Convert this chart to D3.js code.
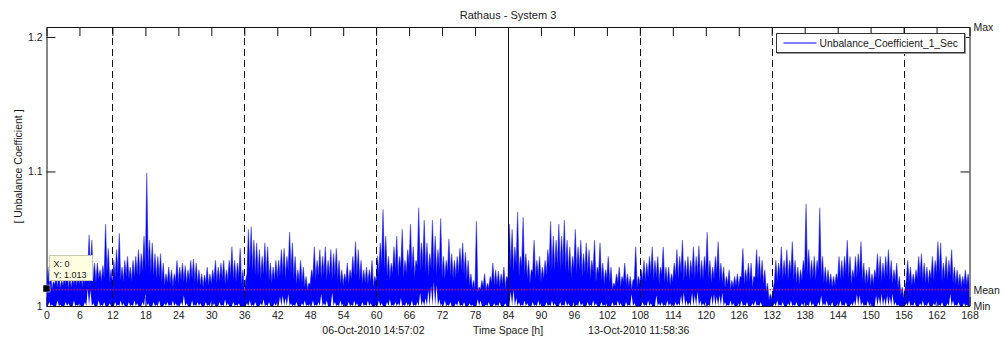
<!DOCTYPE html>
<html>
<head>
<meta charset="utf-8">
<script src="https://cdn.jsdelivr.net/npm/d3@7"></script>
<style>
  html, body { margin: 0; padding: 0; background: #fff; }
  svg { display: block; font-family: "Liberation Sans", Arial, Helvetica, sans-serif; }
</style>
</head>
<body>
<svg id="chart" width="1003" height="340"></svg>
<script>
// ---- data --------------------------------------------------------------
// Unbalance coefficient over one week of 1-second samples, summarised every
// half hour: the local valley of the trace, the highest spike that follows it,
// and the lowest value reached (bottom of the band).

// valleys: t = 0, 0.5, 1.0 ... 168 h
const troughs = [
  1.013, 1.015, 1.012, 1.016, 1.014, 1.013, 1.015, 1.016, 1.013, 1.014, 1.016, 1.015,
  1.016, 1.014, 1.017, 1.022, 1.024, 1.019, 1.017, 1.020, 1.018, 1.021, 1.024, 1.018,
  1.016, 1.021, 1.024, 1.019, 1.018, 1.022, 1.020, 1.018, 1.021, 1.023, 1.022, 1.025,
  1.026, 1.028, 1.024, 1.022, 1.020, 1.021, 1.018, 1.015, 1.017, 1.016, 1.014, 1.018,
  1.017, 1.019, 1.018, 1.016, 1.019, 1.020, 1.018, 1.016, 1.015, 1.014, 1.017, 1.015,
  1.016, 1.019, 1.017, 1.018, 1.020, 1.016, 1.018, 1.022, 1.019, 1.018, 1.021, 1.016,
  1.010, 1.024, 1.027, 1.025, 1.023, 1.022, 1.020, 1.023, 1.022, 1.019, 1.017, 1.019,
  1.020, 1.022, 1.023, 1.020, 1.026, 1.024, 1.020, 1.016, 1.018, 1.017, 1.014, 1.012,
  1.016, 1.021, 1.019, 1.022, 1.020, 1.023, 1.019, 1.022, 1.020, 1.022, 1.019, 1.016,
  1.015, 1.018, 1.016, 1.020, 1.023, 1.022, 1.019, 1.016, 1.017, 1.016, 1.018, 1.014,
  1.018, 1.024, 1.030, 1.027, 1.022, 1.020, 1.024, 1.027, 1.022, 1.028, 1.021, 1.024,
  1.030, 1.026, 1.021, 1.030, 1.026, 1.029, 1.025, 1.022, 1.028, 1.026, 1.023, 1.027,
  1.021, 1.020, 1.025, 1.022, 1.020, 1.021, 1.024, 1.026, 1.023, 1.019, 1.015, 1.013,
  1.012, 1.010, 1.012, 1.014, 1.011, 1.013, 1.017, 1.015, 1.015, 1.014, 1.016, 1.013,
  1.020, 1.028, 1.025, 1.030, 1.022, 1.029, 1.023, 1.020, 1.017, 1.025, 1.020, 1.022,
  1.018, 1.020, 1.023, 1.029, 1.027, 1.026, 1.029, 1.027, 1.030, 1.026, 1.024, 1.021,
  1.027, 1.024, 1.026, 1.022, 1.025, 1.023, 1.020, 1.025, 1.018, 1.024, 1.019, 1.016,
  1.020, 1.017, 1.012, 1.015, 1.017, 1.014, 1.018, 1.015, 1.014, 1.012, 1.020, 1.014,
  1.016, 1.019, 1.018, 1.021, 1.023, 1.019, 1.021, 1.017, 1.023, 1.017, 1.017, 1.015,
  1.018, 1.022, 1.020, 1.024, 1.019, 1.021, 1.019, 1.023, 1.020, 1.023, 1.019, 1.020,
  1.025, 1.020, 1.017, 1.020, 1.024, 1.018, 1.017, 1.014, 1.016, 1.012, 1.014, 1.015,
  1.014, 1.021, 1.016, 1.018, 1.018, 1.014, 1.021, 1.020, 1.019, 1.016, 1.010, 1.004,
  1.005, 1.018, 1.018, 1.022, 1.019, 1.021, 1.019, 1.024, 1.019, 1.017, 1.016, 1.019,
  1.026, 1.023, 1.019, 1.021, 1.019, 1.026, 1.021, 1.017, 1.016, 1.015, 1.014, 1.015,
  1.019, 1.019, 1.020, 1.024, 1.020, 1.016, 1.020, 1.021, 1.024, 1.018, 1.016, 1.017,
  1.015, 1.016, 1.021, 1.020, 1.018, 1.020, 1.022, 1.019, 1.016, 1.018, 1.013, 1.008,
  1.006, 1.019, 1.017, 1.015, 1.016, 1.020, 1.021, 1.018, 1.017, 1.016, 1.020, 1.019,
  1.024, 1.024, 1.018, 1.020, 1.019, 1.022, 1.017, 1.016, 1.015, 1.014, 1.016, 1.015,
  1.014
];
// spikes: t = 0.25, 0.75 ... 167.75 h
const peaks = [
  1.029, 1.024, 1.018, 1.021, 1.023, 1.019, 1.022, 1.026, 1.021, 1.020, 1.024, 1.022,
  1.026, 1.023, 1.028, 1.053, 1.049, 1.032, 1.032, 1.027, 1.030, 1.061, 1.043, 1.027,
  1.034, 1.042, 1.054, 1.029, 1.034, 1.037, 1.029, 1.034, 1.037, 1.042, 1.039, 1.052,
  1.099, 1.049, 1.047, 1.039, 1.037, 1.039, 1.032, 1.024, 1.029, 1.027, 1.024, 1.034,
  1.029, 1.032, 1.030, 1.027, 1.034, 1.035, 1.032, 1.027, 1.024, 1.023, 1.029, 1.024,
  1.027, 1.034, 1.029, 1.032, 1.034, 1.027, 1.034, 1.044, 1.034, 1.032, 1.043, 1.027,
  1.019, 1.057, 1.059, 1.049, 1.047, 1.042, 1.037, 1.047, 1.044, 1.032, 1.029, 1.034,
  1.034, 1.042, 1.043, 1.037, 1.055, 1.047, 1.037, 1.027, 1.034, 1.029, 1.022, 1.017,
  1.027, 1.044, 1.034, 1.042, 1.037, 1.044, 1.034, 1.042, 1.039, 1.043, 1.034, 1.027,
  1.024, 1.032, 1.027, 1.037, 1.048, 1.042, 1.034, 1.027, 1.029, 1.027, 1.034, 1.022,
  1.037, 1.047, 1.072, 1.052, 1.037, 1.032, 1.044, 1.052, 1.037, 1.057, 1.034, 1.042,
  1.061, 1.044, 1.034, 1.073, 1.047, 1.064, 1.047, 1.039, 1.064, 1.052, 1.042, 1.065,
  1.037, 1.034, 1.050, 1.039, 1.034, 1.037, 1.043, 1.047, 1.040, 1.034, 1.024, 1.019,
  1.063, 1.014, 1.019, 1.024, 1.017, 1.022, 1.032, 1.027, 1.026, 1.024, 1.029, 1.022,
  1.061, 1.057, 1.044, 1.070, 1.037, 1.066, 1.039, 1.034, 1.027, 1.049, 1.034, 1.037,
  1.029, 1.034, 1.042, 1.063, 1.052, 1.049, 1.061, 1.052, 1.064, 1.049, 1.044, 1.037,
  1.057, 1.044, 1.049, 1.039, 1.047, 1.042, 1.034, 1.049, 1.029, 1.047, 1.032, 1.027,
  1.037, 1.029, 1.017, 1.024, 1.029, 1.022, 1.032, 1.024, 1.022, 1.019, 1.044, 1.022,
  1.027, 1.034, 1.032, 1.037, 1.044, 1.034, 1.037, 1.029, 1.044, 1.029, 1.029, 1.024,
  1.032, 1.042, 1.037, 1.049, 1.034, 1.037, 1.034, 1.044, 1.037, 1.045, 1.034, 1.037,
  1.055, 1.034, 1.029, 1.037, 1.048, 1.032, 1.029, 1.022, 1.027, 1.019, 1.022, 1.024,
  1.022, 1.043, 1.027, 1.032, 1.032, 1.022, 1.042, 1.037, 1.034, 1.027, 1.017, 1.009,
  1.012, 1.034, 1.032, 1.044, 1.034, 1.042, 1.034, 1.048, 1.034, 1.029, 1.027, 1.034,
  1.076, 1.042, 1.034, 1.037, 1.034, 1.073, 1.037, 1.029, 1.027, 1.024, 1.022, 1.024,
  1.037, 1.034, 1.037, 1.049, 1.037, 1.027, 1.037, 1.039, 1.048, 1.032, 1.027, 1.029,
  1.024, 1.027, 1.039, 1.037, 1.032, 1.037, 1.042, 1.034, 1.027, 1.032, 1.022, 1.014,
  1.012, 1.034, 1.029, 1.024, 1.027, 1.037, 1.039, 1.032, 1.029, 1.027, 1.037, 1.034,
  1.048, 1.047, 1.032, 1.037, 1.034, 1.042, 1.029, 1.027, 1.024, 1.022, 1.027, 1.024
];
// lowest value in each half hour: t = 0, 0.5 ... 168 h
const floors = [
  1.000, 1.003, 1.001, 1.000, 1.004, 1.001, 1.000, 1.003, 1.002, 1.000, 1.004, 1.001,
  1.002, 1.000, 1.003, 1.013, 1.012, 1.002, 1.000, 1.004, 1.001, 1.003, 1.000, 1.002,
  1.000, 1.003, 1.001, 1.004, 1.002, 1.000, 1.003, 1.001, 1.004, 1.002, 1.000, 1.003,
  1.009, 1.002, 1.000, 1.003, 1.001, 1.004, 1.000, 1.002, 1.003, 1.001, 1.004, 1.002,
  1.001, 1.003, 1.008, 1.002, 1.000, 1.004, 1.001, 1.003, 1.002, 1.000, 1.003, 1.001,
  1.004, 1.002, 1.000, 1.003, 1.001, 1.005, 1.002, 1.000, 1.003, 1.001, 1.002, 1.000,
  1.000, 1.002, 1.004, 1.001, 1.003, 1.000, 1.002, 1.005, 1.001, 1.003, 1.000, 1.002,
  1.003, 1.007, 1.008, 1.006, 1.009, 1.002, 1.001, 1.003, 1.000, 1.002, 1.004, 1.001,
  1.002, 1.004, 1.001, 1.003, 1.009, 1.002, 1.004, 1.000, 1.010, 1.003, 1.001, 1.004,
  1.002, 1.000, 1.003, 1.001, 1.004, 1.002, 1.000, 1.003, 1.001, 1.004, 1.002, 1.000,
  1.001, 1.004, 1.002, 1.000, 1.003, 1.005, 1.001, 1.003, 1.002, 1.006, 1.001, 1.003,
  1.002, 1.004, 1.001, 1.003, 1.010, 1.004, 1.006, 1.012, 1.015, 1.018, 1.016, 1.005,
  1.002, 1.004, 1.001, 1.003, 1.000, 1.002, 1.004, 1.001, 1.003, 1.000, 1.002, 1.001,
  1.000, 1.005, 1.004, 1.000, 1.001, 1.003, 1.000, 1.002, 1.001, 1.003, 1.000, 1.002,
  1.000, 1.011, 1.012, 1.006, 1.003, 1.001, 1.004, 1.002, 1.000, 1.003, 1.001, 1.004,
  1.002, 1.000, 1.003, 1.001, 1.004, 1.002, 1.000, 1.003, 1.001, 1.004, 1.002, 1.000,
  1.003, 1.001, 1.004, 1.002, 1.000, 1.003, 1.001, 1.004, 1.002, 1.000, 1.003, 1.001,
  1.002, 1.000, 1.003, 1.001, 1.004, 1.002, 1.000, 1.003, 1.001, 1.009, 1.002, 1.000,
  1.000, 1.003, 1.001, 1.004, 1.002, 1.000, 1.008, 1.002, 1.003, 1.001, 1.004, 1.002,
  1.001, 1.003, 1.002, 1.008, 1.010, 1.004, 1.003, 1.010, 1.008, 1.011, 1.004, 1.002,
  1.003, 1.001, 1.008, 1.009, 1.007, 1.008, 1.010, 1.003, 1.001, 1.004, 1.002, 1.000,
  1.002, 1.004, 1.001, 1.003, 1.000, 1.002, 1.004, 1.001, 1.003, 1.000, 1.000, 1.000,
  1.000, 1.002, 1.004, 1.001, 1.003, 1.000, 1.002, 1.004, 1.001, 1.003, 1.000, 1.002,
  1.003, 1.001, 1.004, 1.002, 1.000, 1.003, 1.008, 1.002, 1.004, 1.001, 1.003, 1.000,
  1.002, 1.004, 1.001, 1.003, 1.000, 1.002, 1.004, 1.009, 1.008, 1.003, 1.001, 1.004,
  1.002, 1.000, 1.008, 1.007, 1.009, 1.006, 1.008, 1.007, 1.009, 1.003, 1.001, 1.000,
  1.000, 1.002, 1.004, 1.001, 1.003, 1.000, 1.002, 1.004, 1.001, 1.003, 1.000, 1.002,
  1.004, 1.001, 1.003, 1.000, 1.002, 1.009, 1.004, 1.001, 1.003, 1.000, 1.002, 1.001,
  1.000
];

const hourTicks   = [0, 6, 12, 18, 24, 30, 36, 42, 48, 54, 60, 66, 72, 78, 84, 90, 96,
                     102, 108, 114, 120, 126, 132, 138, 144, 150, 156, 162, 168];
const valueTicks  = [1, 1.1, 1.2];
const dayMarks    = [12, 36, 60, 108, 132, 156];   // dashed separators
const weekMark    = [84];                           // solid separator
const meanValue   = 1.012;
const minValue    = 1.0;
const maxValue    = 1.2074;
const seriesName  = "Unbalance_Coefficient_1_Sec";
const startStamp  = "06-Oct-2010 14:57:02";
const endStamp    = "13-Oct-2010 11:58:36";

// ---- build series -----------------------------------------------------
// each point: [hour, top of trace, bottom of trace]
const series = [];
peaks.forEach((p, i) => {
  series.push([i * 0.5, troughs[i], floors[i]]);
  series.push([i * 0.5 + 0.25, p, minValue]);
});
series.push([168, troughs[troughs.length - 1], floors[floors.length - 1]]);

// ---- layout ------------------------------------------------------------
const svg = d3.select("#chart");
const L = 46.5, R = 969.5, T = 27, B = 306;
const x = d3.scaleLinear().domain([0, 168]).range([L, R]);
const y = d3.scaleLinear().domain([minValue, maxValue]).range([B, T]);
const FS = 10.5;
const textCol = "#1a1a1a";

svg.append("rect").attr("width", 1003).attr("height", 340).attr("fill", "#fff");

svg.append("defs").append("clipPath").attr("id", "plot")
  .append("rect").attr("x", L).attr("y", T).attr("width", R - L).attr("height", B - T);

function styleAxis(g) {
  g.attr("font-family", null).attr("font-size", null);
  g.selectAll("path.domain").attr("stroke", "#111").attr("stroke-width", 1);
  g.selectAll(".tick line").attr("stroke", "#111").attr("stroke-width", 1);
  g.selectAll(".tick text").attr("fill", textCol).style("font-size", FS + "px");
}

// axes (ticks point inward)
svg.append("g").attr("transform", `translate(0,${B})`)
  .call(d3.axisBottom(x).tickValues(hourTicks).tickSizeInner(-9).tickSizeOuter(0).tickPadding(6))
  .call(styleAxis);
svg.append("g").attr("transform", `translate(0,${T})`)
  .call(d3.axisTop(x).tickValues(hourTicks).tickSizeInner(-9).tickSizeOuter(0).tickFormat(""))
  .call(styleAxis);
svg.append("g").attr("transform", `translate(${L},0)`)
  .call(d3.axisLeft(y).tickValues(valueTicks).tickSizeInner(-9).tickSizeOuter(0).tickPadding(4)
        .tickFormat(d3.format("")))
  .call(styleAxis);
svg.append("g").attr("transform", `translate(${R},0)`)
  .call(d3.axisRight(y).tickValues(valueTicks).tickSizeInner(-9).tickSizeOuter(0).tickFormat(""))
  .call(styleAxis);

// series: dense band between bottom and top of the trace
const band = d3.area().x(d => x(d[0])).y0(d => y(d[2])).y1(d => y(d[1]));
const topLine = d3.line().x(d => x(d[0])).y(d => y(d[1]));
const plot = svg.append("g").attr("clip-path", "url(#plot)");
plot.append("path").datum(series).attr("d", topLine)
  .attr("fill", "none").attr("stroke", "#7a7ad8").attr("stroke-width", 1.1)
  .attr("stroke-linejoin", "bevel");
plot.append("path").datum(series).attr("d", band)
  .attr("fill", "#0000ff").attr("stroke", "none");

// mean line
svg.append("line")
  .attr("x1", x(0)).attr("x2", x(168))
  .attr("y1", y(meanValue)).attr("y2", y(meanValue))
  .attr("stroke", "#ff0020").attr("stroke-width", 1)
  .attr("stroke-dasharray", "1.5,1.5");

// day separators
svg.selectAll("line.day").data(dayMarks).join("line")
  .attr("class", "day")
  .attr("x1", d => Math.round(x(d)) + 0.5).attr("x2", d => Math.round(x(d)) + 0.5)
  .attr("y1", T).attr("y2", B)
  .attr("stroke", "#111").attr("stroke-width", 1)
  .attr("stroke-dasharray", "7,4");
svg.selectAll("line.week").data(weekMark).join("line")
  .attr("class", "week")
  .attr("x1", d => Math.round(x(d)) + 0.5).attr("x2", d => Math.round(x(d)) + 0.5)
  .attr("y1", T).attr("y2", B)
  .attr("stroke", "#111").attr("stroke-width", 1);

// right-hand statistic labels
const stats = [["Max", maxValue], ["Mean", meanValue], ["Min", minValue]];
svg.selectAll("text.stat").data(stats).join("text")
  .attr("class", "stat")
  .attr("x", R + 4).attr("y", d => y(d[1]))
  .attr("dy", "0.35em")
  .attr("fill", textCol).style("font-size", FS + "px")
  .text(d => d[0]);

// title and axis labels
svg.append("text").attr("x", (L + R) / 2).attr("y", 19)
  .attr("text-anchor", "middle").attr("fill", textCol).style("font-size", "11px")
  .text("Rathaus - System 3");
svg.append("text").attr("x", (L + R) / 2).attr("y", 334)
  .attr("text-anchor", "middle").attr("fill", textCol).style("font-size", FS + "px")
  .text("Time Space [h]");
svg.append("text").attr("x", x(59.5)).attr("y", 334)
  .attr("text-anchor", "middle").attr("fill", textCol).style("font-size", FS + "px")
  .text(startStamp);
svg.append("text").attr("x", x(107.8)).attr("y", 334)
  .attr("text-anchor", "middle").attr("fill", textCol).style("font-size", FS + "px")
  .text(endStamp);
svg.append("text")
  .attr("transform", `translate(21.5,${(T + B) / 2}) rotate(-90)`)
  .attr("text-anchor", "middle").attr("fill", textCol).style("font-size", FS + "px")
  .text("[ Unbalance Coefficient ]");

// legend
const lg = svg.append("g").attr("transform", "translate(776.5,33.5)");
lg.append("rect").attr("x", 1).attr("y", 1).attr("width", 188).attr("height", 19)
  .attr("fill", "none").attr("stroke", "#999");
lg.append("rect").attr("width", 188).attr("height", 19)
  .attr("fill", "#fff").attr("stroke", "#333");
lg.append("line").attr("x1", 7).attr("x2", 40).attr("y1", 9.5).attr("y2", 9.5)
  .attr("stroke", "#0000ff").attr("stroke-width", 1);
lg.append("text").attr("x", 43).attr("y", 13.5)
  .attr("fill", textCol).style("font-size", "10.3px")
  .text(seriesName);

// data tip on the first sample
const tip = series[0];
const tx = x(tip[0]), ty = y(tip[1]);
const tg = svg.append("g");
tg.append("rect").attr("x", tx + 3).attr("y", ty - 33).attr("width", 43).attr("height", 25)
  .attr("fill", "#ffffe1").attr("stroke", "#c8c8b0").attr("stroke-width", 1);
tg.append("text").attr("x", tx + 7).attr("y", ty - 22)
  .attr("fill", "#111").style("font-size", "9px")
  .text("X: " + d3.format("")(tip[0]));
tg.append("text").attr("x", tx + 7).attr("y", ty - 11)
  .attr("fill", "#111").style("font-size", "9px")
  .text("Y: " + d3.format(".3f")(tip[1]));
tg.append("rect").attr("x", tx - 3.5).attr("y", ty - 3.5).attr("width", 7).attr("height", 7)
  .attr("fill", "#000").attr("stroke", "#fff").attr("stroke-width", 0.5);
</script>
</body>
</html>
